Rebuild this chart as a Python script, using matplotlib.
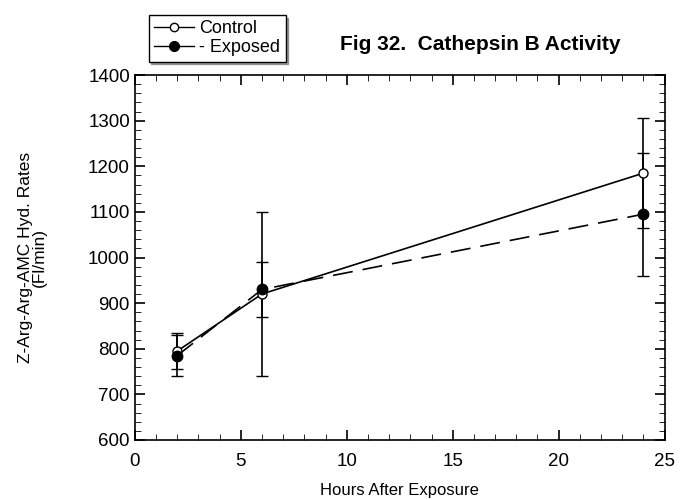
import matplotlib
matplotlib.use("Agg")
import matplotlib.pyplot as plt
from matplotlib.lines import Line2D
from matplotlib.ticker import MultipleLocator

plt.rcParams['font.family'] = ['Liberation Sans', 'DejaVu Sans']

hours = [2, 6, 24]
control = [795, 920, 1185]
control_err = [40, 180, 120]
exposed = [785, 930, 1095]
exposed_err = [45, 60, 135]

fig = plt.figure(figsize=(6.81, 5.0), dpi=100)
ax = fig.add_axes([0.198, 0.12, 0.778, 0.73])

ax.errorbar(hours, control, yerr=control_err, color="black", lw=1.2,
            marker="o", mfc="white", mec="black", ms=6.5, capsize=4,
            elinewidth=1.2)
ax.errorbar(hours, exposed, yerr=exposed_err, color="black", lw=1.2,
            ls=(0, (12, 6)), marker="o", mfc="black", mec="black", ms=7.5,
            capsize=4, elinewidth=1.2)

ax.set_xlim(0, 25)
ax.set_ylim(600, 1400)
ax.xaxis.set_major_locator(MultipleLocator(5))
ax.xaxis.set_minor_locator(MultipleLocator(1))
ax.yaxis.set_major_locator(MultipleLocator(100))
ax.yaxis.set_minor_locator(MultipleLocator(20))
ax.tick_params(which="both", direction="in", top=True, right=True, labelsize=13.5)
ax.tick_params(which="major", length=7, width=1.2)
ax.tick_params(axis="x", which="major", pad=9)
ax.tick_params(which="minor", length=4)
for s in ax.spines.values():
    s.set_linewidth(1.2)

ax.set_xlabel("Hours After Exposure", fontsize=12, labelpad=10)
ax.set_ylabel("Z-Arg-Arg-AMC Hyd. Rates\n(Fl/min)", fontsize=12.5,
              labelpad=30, linespacing=0.9)

fig.text(0.705, 0.91, "Fig 32.  Cathepsin B Activity", fontsize=15,
         fontweight="bold", ha="center", va="center")

# legend: line + marker only, like the original
handles = [
    Line2D([], [], color="black", lw=1, marker="o", mfc="white", mec="black", ms=6),
    Line2D([], [], color="black", lw=1, marker="o", mfc="black", mec="black", ms=7),
]
fig.legend(handles, ["Control", "- Exposed"], loc="upper left",
           bbox_to_anchor=(0.205, 0.988), fontsize=13, numpoints=1,
           frameon=True, fancybox=False, shadow=True, edgecolor="black",
           borderpad=0.3, handlelength=2.2, handletextpad=0.3, labelspacing=0.1)

fig.savefig("out.png", dpi=100)
